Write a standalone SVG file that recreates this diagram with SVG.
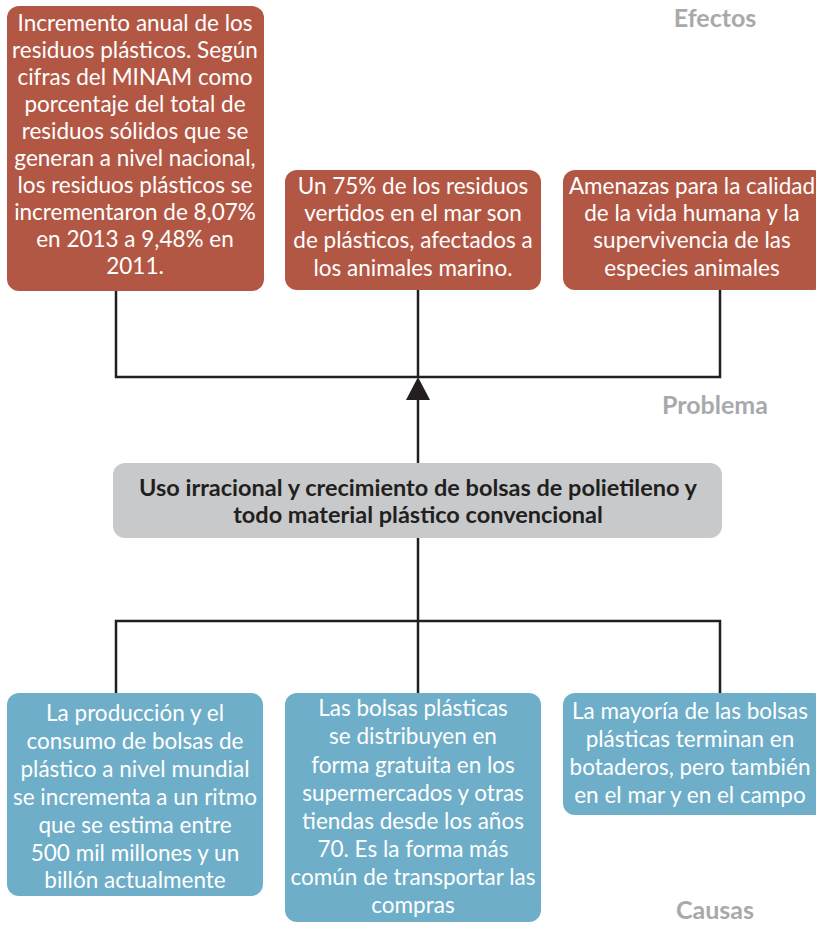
<svg xmlns="http://www.w3.org/2000/svg" width="816" height="926" viewBox="0 0 816 926">
<style>
.red{fill:#B35745}
.blue{fill:#6FAEC8}
.gray{fill:#C8C9CB}
.wt{font-family:Lato,"Liberation Sans",sans-serif;font-size:22.5px;fill:#fff;text-anchor:middle}
.bt{font-family:Lato,"Liberation Sans",sans-serif;font-size:22.5px;fill:#fff;text-anchor:middle}
.gt{font-family:Lato,"Liberation Sans",sans-serif;font-size:23.5px;font-weight:bold;fill:#231F20;text-anchor:middle}
.lbl{font-family:Lato,"Liberation Sans",sans-serif;font-size:25px;font-weight:bold;fill:#A8A9AC;text-anchor:middle}
.ln{stroke:#231F20;stroke-width:2.5;fill:none}
</style>
<g id="connectors">
<polyline class="ln" points="116,291 116,377 720,377 720,290"/>
<line class="ln" x1="418" y1="290" x2="418" y2="377"/>
<line class="ln" x1="418" y1="463" x2="418" y2="395"/>
<polygon points="418,377 406,400 430,400" fill="#231F20"/>
<line class="ln" x1="418" y1="538" x2="418" y2="621"/>
<polyline class="ln" points="116,693 116,621 720,621 720,693"/>
<line class="ln" x1="418" y1="621" x2="418" y2="693"/>
</g>
<g id="label-efectos"><text class="lbl" x="715" y="27">Efectos</text></g>
<g id="label-problema"><text class="lbl" x="715" y="414">Problema</text></g>
<g id="label-causas"><text class="lbl" x="715" y="919">Causas</text></g>
<g id="efecto1">
<rect class="red" x="7" y="6" width="257" height="285" rx="12"/>
<text class="wt" x="135" y="31">Incremento anual de los</text>
<text class="wt" x="135" y="58">residuos plásticos. Según</text>
<text class="wt" x="135" y="85">cifras del MINAM como</text>
<text class="wt" x="135" y="112">porcentaje del total de</text>
<text class="wt" x="135" y="139">residuos sólidos que se</text>
<text class="wt" x="135" y="166">generan a nivel nacional,</text>
<text class="wt" x="135" y="193">los residuos plásticos se</text>
<text class="wt" x="135" y="220">incrementaron de 8,07%</text>
<text class="wt" x="135" y="247">en 2013 a 9,48% en</text>
<text class="wt" x="135" y="274">2011.</text>
</g>
<g id="efecto2">
<rect class="red" x="285" y="170" width="256" height="120" rx="12"/>
<text class="wt" x="413" y="194">Un 75% de los residuos</text>
<text class="wt" x="413" y="221">vertidos en el mar son</text>
<text class="wt" x="413" y="248">de plásticos, afectados a</text>
<text class="wt" x="413" y="276">los animales marino.</text>
</g>
<g id="efecto3">
<rect class="red" x="563" y="170" width="262" height="120" rx="12"/>
<text class="wt" x="692" y="194">Amenazas para la calidad</text>
<text class="wt" x="692" y="221">de la vida humana y la</text>
<text class="wt" x="692" y="248">supervivencia de las</text>
<text class="wt" x="692" y="276">especies animales</text>
</g>
<g id="problema">
<rect class="gray" x="113" y="463" width="609" height="75" rx="12"/>
<text class="gt" x="418" y="496">Uso irracional y crecimiento de bolsas de polietileno y</text>
<text class="gt" x="418" y="523">todo material plástico convencional</text>
</g>
<g id="causa1">
<rect class="blue" x="7" y="693" width="256" height="203" rx="12"/>
<text class="bt" x="135" y="721">La producción y el</text>
<text class="bt" x="135" y="749">consumo de bolsas de</text>
<text class="bt" x="135" y="777">plástico a nivel mundial</text>
<text class="bt" x="135" y="805">se incrementa a un ritmo</text>
<text class="bt" x="135" y="833">que se estima entre</text>
<text class="bt" x="135" y="861">500 mil millones y un</text>
<text class="bt" x="135" y="888">billón actualmente</text>
</g>
<g id="causa2">
<rect class="blue" x="285" y="693" width="256" height="229" rx="12"/>
<text class="bt" x="413" y="716">Las bolsas plásticas</text>
<text class="bt" x="413" y="744">se distribuyen en</text>
<text class="bt" x="413" y="773">forma gratuita en los</text>
<text class="bt" x="413" y="801">supermercados y otras</text>
<text class="bt" x="413" y="829">tiendas desde los años</text>
<text class="bt" x="413" y="857">70. Es la forma más</text>
<text class="bt" x="413" y="885">común de transportar las</text>
<text class="bt" x="413" y="913">compras</text>
</g>
<g id="causa3">
<rect class="blue" x="563" y="693" width="262" height="122" rx="12"/>
<text class="bt" x="690" y="719">La  mayoría de las bolsas</text>
<text class="bt" x="690" y="747">plásticas terminan en</text>
<text class="bt" x="690" y="775">botaderos, pero también</text>
<text class="bt" x="690" y="803">en el mar y en el campo</text>
</g>
</svg>
